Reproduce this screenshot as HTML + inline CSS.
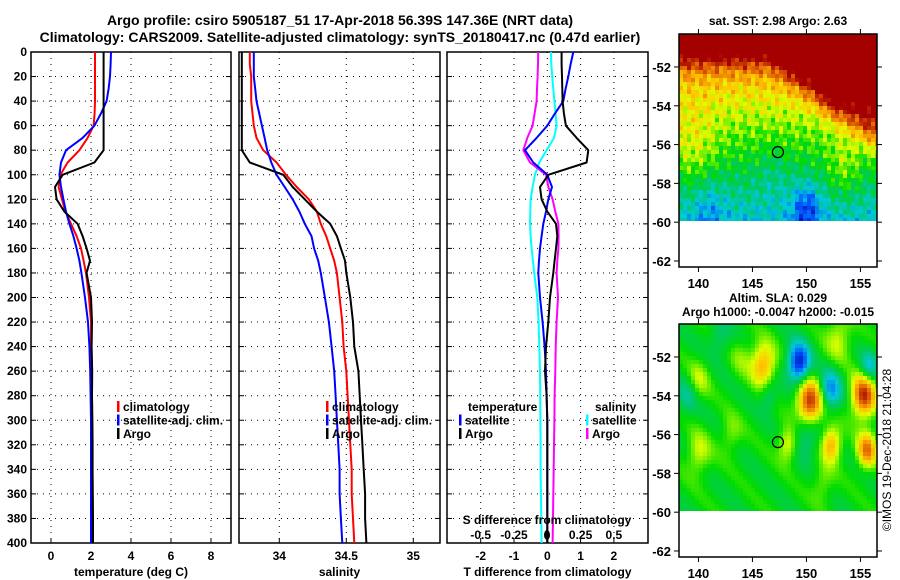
<!DOCTYPE html>
<html><head><meta charset="utf-8"><style>
body{margin:0;background:#fff;}
svg{display:block;font-family:"Liberation Sans",sans-serif;font-weight:bold;}
</style></head><body>
<svg id="c" width="900" height="580" xmlns="http://www.w3.org/2000/svg">
<text x="340" y="25" text-anchor="middle" font-size="14">Argo profile: csiro 5905187_51 17-Apr-2018 56.39S 147.36E (NRT data)</text>
<text x="340" y="42" text-anchor="middle" font-size="14">Climatology: CARS2009. Satellite-adjusted climatology: synTS_20180417.nc (0.47d earlier)</text>
<text x="778" y="25" text-anchor="middle" font-size="12">sat. SST: 2.98 Argo: 2.63</text>
<text x="778" y="302" text-anchor="middle" font-size="12">Altim. SLA: 0.029</text>
<text x="778" y="316" text-anchor="middle" font-size="12">Argo h1000: -0.0047 h2000: -0.015</text>
<text transform="translate(891,450) rotate(-90)" text-anchor="middle" font-size="12" font-weight="normal">©IMOS 19-Dec-2018 21:04:28</text>
</svg>
<script>
const depths=[0,10,20,30,40,50,60,70,80,90,100,110,120,130,140,150,160,170,180,200,220,240,260,280,300,320,340,360,380,400];
const tClim=[2.2,2.2,2.2,2.2,2.2,2.18,2.13,1.83,1.42,0.83,0.47,0.38,0.55,0.72,1.0,1.28,1.5,1.63,1.75,1.9,2.0,2.0,2.02,2.02,2.03,2.03,2.04,2.04,2.05,2.05];
const tSat=[3.0,2.98,2.95,2.88,2.78,2.5,2.17,1.58,0.75,0.5,0.42,0.5,0.62,0.75,0.92,1.12,1.28,1.42,1.52,1.7,1.85,1.92,1.96,1.98,2.0,2.0,2.0,2.0,2.0,2.0];
const tArgo=[2.63,2.63,2.63,2.63,2.63,2.63,2.63,2.63,2.63,2.17,0.58,0.2,0.28,0.67,1.33,1.58,1.78,1.95,1.78,2.0,2.05,2.03,2.06,2.05,2.07,2.08,2.08,2.09,2.1,2.1];
const sClim=[33.78,33.78,33.79,33.79,33.79,33.8,33.81,33.83,33.88,33.98,34.05,34.13,34.22,34.28,34.31,34.35,34.38,34.41,34.43,34.45,34.47,34.48,34.5,34.51,34.52,34.53,34.54,34.54,34.55,34.56];
const sSat=[33.81,33.81,33.81,33.82,33.83,33.85,33.87,33.89,33.91,33.94,33.98,34.04,34.1,34.15,34.19,34.24,34.26,34.29,34.31,34.34,34.37,34.39,34.41,34.42,34.43,34.44,34.45,34.45,34.46,34.47];
const sArgo=[33.72,33.72,33.72,33.72,33.72,33.72,33.72,33.72,33.72,33.78,34.03,34.1,34.19,34.28,34.38,34.43,34.46,34.49,34.5,34.53,34.55,34.56,34.59,34.6,34.61,34.62,34.63,34.64,34.64,34.65];
const dTSat=[0.78,0.7,0.63,0.55,0.48,0.23,0,-0.32,-0.67,-0.42,0,0.14,0.03,-0.04,-0.12,-0.17,-0.22,-0.25,-0.27,-0.22,-0.14,-0.08,-0.04,-0.02,0,0,0,0,0,0];
const dTArgo=[0.43,0.43,0.44,0.45,0.46,0.5,0.56,0.88,1.23,1.18,0.03,-0.22,-0.17,0,0.26,0.3,0.26,0.22,0.18,0.08,0.03,-0.04,-0.07,-0.02,0,0,0,0,0,0];
const dSSat=[0.028,0.03,0.037,0.045,0.053,0.062,0.07,0.05,-0.005,-0.06,-0.093,-0.11,-0.125,-0.128,-0.13,-0.125,-0.118,-0.108,-0.098,-0.075,-0.065,-0.06,-0.055,-0.053,-0.052,-0.05,-0.05,-0.048,-0.045,-0.043];
const dSArgo=[-0.068,-0.07,-0.073,-0.077,-0.08,-0.095,-0.11,-0.15,-0.18,-0.13,-0.01,0.008,0.04,0.06,0.083,0.085,0.083,0.075,0.07,0.08,0.07,0.063,0.06,0.055,0.053,0.05,0.048,0.045,0.043,0.04];
const depthTicks=[0,20,40,60,80,100,120,140,160,180,200,220,240,260,280,300,320,340,360,380,400];
const tTicks=[0,2,4,6,8];
const sTicks=[34,34.5,35];
const dTicks=[-2,-1,0,1,2];
const dSTicks=[-0.5,-0.25,0.25,0.5];

const NS="http://www.w3.org/2000/svg";
const svg=document.getElementById('c');
function mk(tag,attrs,parent){const e=document.createElementNS(NS,tag);for(const k in attrs)e.setAttribute(k,attrs[k]);(parent||svg).appendChild(e);return e;}
const Y0=52,Y1=543;
const yD=d=>Y0+d*(Y1-Y0)/400;
const panels=[
 {x0:31,x1:231,fx:v=>51+v*20,ticks:tTicks,lab:v=>String(v),title:'temperature (deg C)',name:'temperature'},
 {x0:239,x1:440,fx:v=>279.3+(v-34)*134,ticks:sTicks,lab:v=>String(v),title:'salinity',name:'salinity'},
 {x0:447,x1:648,fx:v=>547.3+v*33.3,ticks:dTicks,lab:v=>String(v),title:'T difference from climatology',name:'difference'}
];
panels.forEach((p,pi)=>{
  const g=mk('g',{});
  
  
  depthTicks.forEach(d=>{
    const l=mk('line',{x1:p.x0,x2:p.x1,y1:yD(d),y2:yD(d),stroke:'#000','stroke-width':1,'stroke-dasharray':'1,5'},g);
    
    
    mk('line',{x1:p.x0,x2:p.x0+5,y1:yD(d),y2:yD(d),stroke:'#000'},g);
    mk('line',{x1:p.x1-5,x2:p.x1,y1:yD(d),y2:yD(d),stroke:'#000'},g);
  });
  p.ticks.forEach(v=>{
    const x=p.fx(v);
    const l=mk('line',{x1:x,x2:x,y1:Y0,y2:Y1,stroke:'#000','stroke-width':1,'stroke-dasharray':'1,5'},g);
    
    
    mk('line',{x1:x,x2:x,y1:Y1,y2:Y1-5,stroke:'#000'},g);
    const t=mk('text',{x:x,y:560,'text-anchor':'middle','font-size':12},g);
    t.textContent=p.lab(v);
    
    
  });
  const t=mk('text',{x:(p.x0+p.x1)/2,y:576,'text-anchor':'middle','font-size':12},g);
  t.textContent=p.title;
  
  
  const r=mk('rect',{x:p.x0,y:Y0,width:p.x1-p.x0,height:Y1-Y0,fill:'none',stroke:'#000','stroke-width':1.5},g);
  
  
});
depthTicks.forEach(d=>{
  const t=mk('text',{x:27,y:yD(d)+4,'text-anchor':'end','font-size':12});
  t.textContent=d;
  
  
});
function line(vals,fx,color,name,w){
  const pts=vals.map((v,i)=>fx(v).toFixed(1)+','+yD(depths[i]).toFixed(1)).join(' ');
  const pl=mk('polyline',{points:pts,fill:'none',stroke:color,'stroke-width':w||2,'stroke-linejoin':'round'});
  
  
}
const P=panels;
line(tClim,P[0].fx,'#f00','temp-climatology-line');
line(tSat,P[0].fx,'#00f','temp-satellite-line');
line(tArgo,P[0].fx,'#000','temp-argo-line');
line(sClim,P[1].fx,'#f00','sal-climatology-line');
line(sSat,P[1].fx,'#00f','sal-satellite-line');
line(sArgo,P[1].fx,'#000','sal-argo-line');
const fS=v=>P[2].fx(v*4);
line(dSSat,fS,'#0ff','sdiff-satellite-line');
line(dSArgo,fS,'#f0f','sdiff-argo-line');
line(dTSat,P[2].fx,'#00f','tdiff-satellite-line');
line(dTArgo,P[2].fx,'#000','tdiff-argo-line');
const st=mk('text',{x:547,y:524,'text-anchor':'middle','font-size':12});
st.textContent='S difference from climatology';


dSTicks.forEach(v=>{
  const t=mk('text',{x:fS(v),y:539,'text-anchor':'middle','font-size':12});
  t.textContent=String(v);
  
  
});
mk('ellipse',{cx:547,cy:535,rx:3,ry:5,fill:'#000'});
function leg(x,y,color,label,name){
  const g=mk('g',{});
  
  
  if(color) mk('rect',{x:x,y:y-9,width:2.5,height:11,fill:color},g);
  const t=mk('text',{x:x+6,y:y+1,'font-size':12},g);
  t.textContent=label;
}
[[117,'#f00','climatology'],[117,'#00f','satellite-adj. clim.'],[117,'#000','Argo']].forEach((a,i)=>leg(a[0],410+i*13.5,a[1],a[2],'legend-temp-'+i));
[[326,'#f00','climatology'],[326,'#00f','satellite-adj. clim.'],[326,'#000','Argo']].forEach((a,i)=>leg(a[0],410+i*13.5,a[1],a[2],'legend-sal-'+i));
leg(462,410,null,'temperature','legend-tdiff-title');
leg(459,423.5,'#00f','satellite','legend-tdiff-sat');
leg(459,437,'#000','Argo','legend-tdiff-argo');
leg(589,410,null,'salinity','legend-sdiff-title');
leg(586,423.5,'#0ff','satellite','legend-sdiff-sat');
leg(586,437,'#f0f','Argo','legend-sdiff-argo');

function jet(v){
  v=Math.max(0,Math.min(1,v));
  const stops=[[0,[0,0,150]],[0.15,[0,80,255]],[0.3,[0,200,220]],[0.42,[0,200,100]],[0.52,[0,220,0]],[0.65,[220,255,0]],[0.75,[255,200,0]],[0.87,[230,110,0]],[1,[165,0,0]]];
  for(let i=1;i<stops.length;i++){if(v<=stops[i][0]){const a=stops[i-1],b=stops[i],f=(v-a[0])/(b[0]-a[0]);return 'rgb('+a[1].map((c,k)=>Math.round(c+(b[1][k]-c)*f)).join(',')+')';}}
  return 'rgb(165,0,0)';
}
const lonTicks=[140,145,150,155];
const latTicks=[-52,-54,-56,-58,-60,-62];
const sstBlobs=[[139.5,-56.3,0.12,2.2],[153.5,-57.3,0.12,1.6],[152.5,-53.8,0.08,1.0],[150,-59.3,-0.22,1.3],[141,-59.3,-0.1,1.5],[147,-57.5,-0.05,1.5]];
const slaBlobs=[[146,-52.4,0.3,1.1],[149.3,-52.3,-0.45,1.0],[152.2,-53.7,-0.28,1.0],[150.3,-54.4,0.5,1.2],[155.3,-54,0.45,1.1],[152.3,-56.5,0.3,0.9],[155.6,-56.8,0.35,0.9],[150,-55.8,-0.18,1.3],[139,-54,-0.12,1.0],[146.5,-54,-0.12,0.8],[155.8,-52.5,-0.2,0.8],[140,-53.2,0.13,1.0],[148.3,-56.5,0.2,0.9],[140,-57,0.15,1.1],[144,-52,0.08,1.0],[143,-56,0.1,1.0],[151.5,-58.5,0.1,1.0],[153,-51,0.15,1.2],[142,-51,-0.1,1.0]];
function drawMap(top,name,field){
  const x0=679,x1=877,yTop=top,yData=top+187,yBot=top+233;
  const lon=x=>138.2+(x-x0)/10.8, lat=y=>-50.3-(y-yTop)/19.4;
  const fx=l=>x0+(l-138.2)*10.8, fy=l=>yTop+(-50.3-l)*19.4;
  const g=mk('g',{});
  
  
  const cs=4;
  for(let y=yTop;y<yData;y+=cs)for(let x=x0;x<x1;x+=cs){
    mk('rect',{x:x,y:y,width:Math.min(cs,x1-x),height:Math.min(cs,yData-y),fill:jet(field(lon(x+2),lat(y+2)))},g);
  }
  mk('rect',{x:x0,y:yTop,width:x1-x0,height:yBot-yTop,fill:'none',stroke:'#000','stroke-width':1.5},g);
  lonTicks.forEach(l=>{const x=fx(l);mk('line',{x1:x,x2:x,y1:yBot,y2:yBot+5,stroke:'#000'},g);mk('line',{x1:x,x2:x,y1:yTop,y2:yTop-5,stroke:'#000'},g);
    const t=mk('text',{x:x,y:yBot+21,'text-anchor':'middle','font-size':13},g);t.textContent=l;
    
    });
  latTicks.forEach(l=>{const y=fy(l);mk('line',{x1:x0-5,x2:x0,y1:y,y2:y,stroke:'#000'},g);mk('line',{x1:x1,x2:x1+5,y1:y,y2:y,stroke:'#000'},g);
    const t=mk('text',{x:x0-8,y:y+5,'text-anchor':'end','font-size':13},g);t.textContent=l;
    
    });
  const c=mk('circle',{cx:fx(147.36),cy:fy(-56.39),r:5.5,fill:'none',stroke:'#000','stroke-width':1.2},g);
  
  
}
function blobSum(bl,lo,la){let s=0;bl.forEach(b=>{const d2=((lo-b[0])/b[3])**2+((la-b[1])/(b[3]*1.0))**2;s+=b[2]*Math.exp(-d2);});return s;}
drawMap(34,'sst-map',(lo,la)=>{
  let v=0.3+0.06*(la+60);
  const b=-51.6-Math.max(0,lo-146.5)*0.45;
  v+=0.4/(1+Math.exp(-(la-b)/0.45));
  v+=blobSum(sstBlobs,lo,la);
  v+=0.07*Math.sin(lo*3.1+la*5.3)*Math.cos(lo*1.7-la*4.1)+0.04*Math.sin(lo*7.3-la*6.1);
  return v;
});
drawMap(324,'sla-map',(lo,la)=>0.5+blobSum(slaBlobs,lo,la)+0.04*Math.sin(lo*1.3+la*2.1));
</script>
</body></html>
